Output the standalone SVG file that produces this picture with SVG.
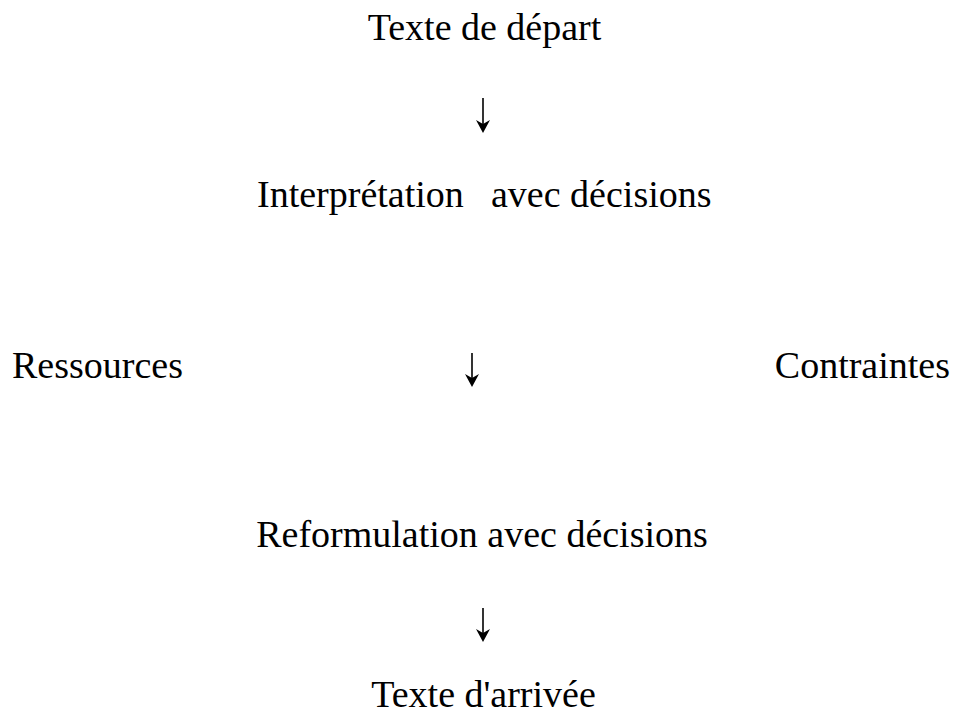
<svg xmlns="http://www.w3.org/2000/svg" width="957" height="722" viewBox="0 0 957 722">
  <defs>
    <style>
      .t { font-family: "Liberation Serif", "Times New Roman", serif; font-size: 38px; fill: #000; }
      .c { text-anchor: middle; }
      .e { text-anchor: end; }
      .shaft { stroke: #000; stroke-width: 1.6; fill: none; }
      .head { fill: #000; stroke: none; }
    </style>
  </defs>
  <rect width="957" height="722" fill="#fff"/>
  <g id="depart"><text class="t c" x="484.5" y="40">Texte de départ</text></g>
  <g id="interpretation">
    <text class="t" x="257" y="207">Interprétation</text>
    <text class="t" x="491" y="207">avec décisions</text>
  </g>
  <g id="ressources"><text class="t" x="12" y="378">Ressources</text></g>
  <g id="contraintes"><text class="t e" x="950" y="378">Contraintes</text></g>
  <g id="reformulation"><text class="t c" x="482" y="547">Reformulation avec décisions</text></g>
  <g id="arrivee"><text class="t c" x="483.5" y="707">Texte d'arrivée</text></g>
  <g id="connectors">
    <line class="shaft" x1="483" y1="98" x2="483" y2="127"/>
    <path class="head" d="M476,120 L483,133 L490,120 L483,124 Z"/>
    <line class="shaft" x1="472" y1="353" x2="472" y2="381"/>
    <path class="head" d="M465,374 L472,387 L479,374 L472,378 Z"/>
    <line class="shaft" x1="483" y1="608" x2="483" y2="636"/>
    <path class="head" d="M476,629 L483,642 L490,629 L483,633 Z"/>
  </g>
</svg>
